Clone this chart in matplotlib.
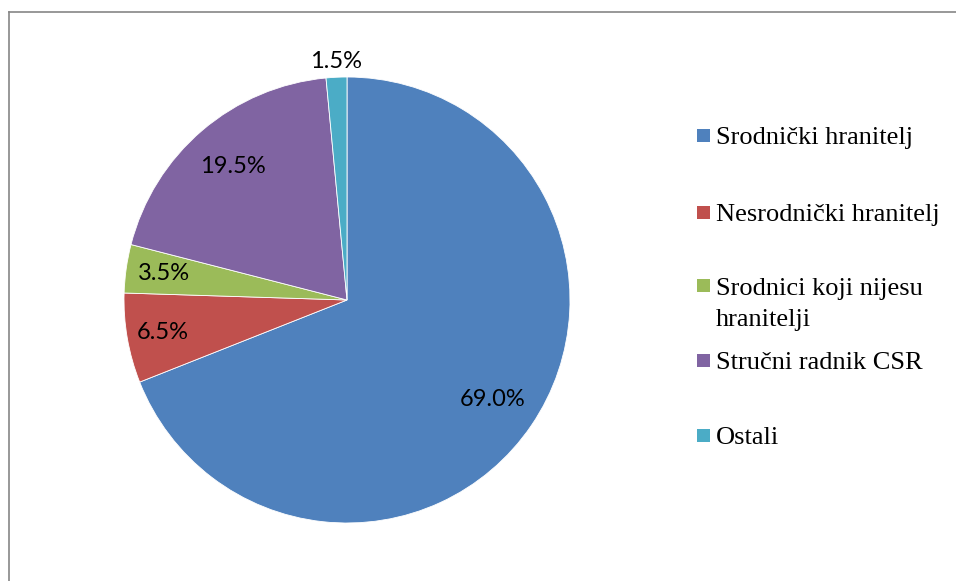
import matplotlib
matplotlib.use("Agg")
import matplotlib.pyplot as plt
import numpy as np
from matplotlib.lines import Line2D
from matplotlib.patches import Rectangle

categories = ["Srodnički hranitelj", "Nesrodnički hranitelj",
              "Srodnici koji nijesu\nhranitelji", "Stručni radnik CSR", "Ostali"]
values = [69.0, 6.5, 3.5, 19.5, 1.5]
colors = ["#4F81BD", "#C0504D", "#9BBB59", "#8064A2", "#4BACC6"]
label_dist = [0.79, 0.84, 0.83, 0.79, 1.07]

W, H = 956, 581
fig = plt.figure(figsize=(W / 100, H / 100), dpi=100)

cx, cy, r = 347, 300, 223
ax = fig.add_axes([(cx - r) / W, (H - cy - r) / H, 2 * r / W, 2 * r / H])
wedges, _ = ax.pie(values, colors=colors, startangle=90, counterclock=False,
                   radius=1.0, wedgeprops=dict(edgecolor="white", linewidth=0.6))
ax.set_xlim(-1, 1)
ax.set_ylim(-1, 1)
ax.set_aspect("equal")
ax.axis("off")

for w, v, d in zip(wedges, values, label_dist):
    ang = np.deg2rad((w.theta1 + w.theta2) / 2)
    ax.text(d * np.cos(ang), d * np.sin(ang), f"{v:.1f}%", ha="center", va="center",
            fontsize=17, family="Lato", color="#000000")

# frame (left and top lines)
fx, fy = 9 / W, 1 - 12 / H
fig.add_artist(Line2D([fx, fx], [0, fy], transform=fig.transFigure, color="#868686", lw=1.2))
fig.add_artist(Line2D([fx, 1], [fy, fy], transform=fig.transFigure, color="#868686", lw=1.2))

# legend
ys = [135, 212, 286, 360, 435]
for y, lab, c in zip(ys, categories, colors):
    fig.add_artist(Rectangle((697 / W, 1 - (y + 6.5) / H), 13 / W, 13 / H,
                             transform=fig.transFigure, facecolor=c, edgecolor="none"))
    fig.text(716 / W, 1 - (y - 8) / H, lab, ha="left", va="top", fontsize=19,
             family=["Liberation Serif", "DejaVu Serif"], color="#000000", linespacing=1.5)

fig.savefig("out.png", dpi=100)
